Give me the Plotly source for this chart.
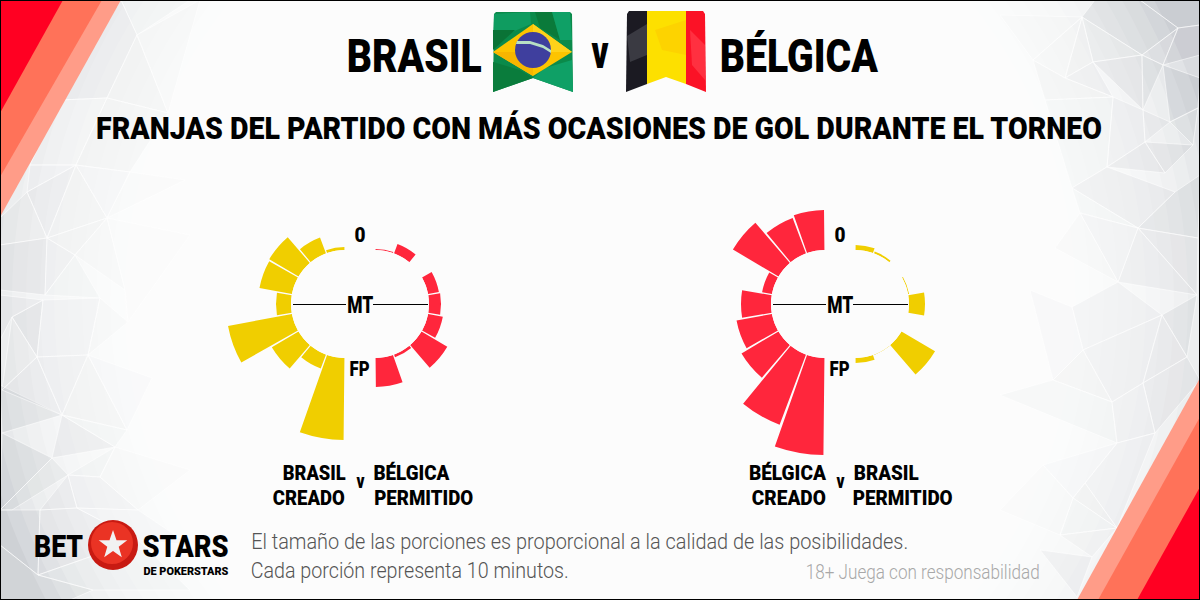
import json
import math
import plotly.graph_objects as go

W, H = 1200, 600

# centro de cada franja de 10 minutos
minutos = [5, 15, 25, 35, 45, 55, 65, 75, 85]

# tamaño de cada porción
brasil_creado = [3, 17, 34, 33, 15, 65, 31, 15, 82]
belgica_permitido = [1, 10, 0, 11, 12, 15, 30, 3, 29]
belgica_creado = [40, 38, 53, 10, 30, 36, 43, 75, 97]
brasil_permitido = [5, 2, 0, 1, 16, 0, 39, 0.4, 5]

AMARILLO = "#f0ce00"
ROJO = "#ff263c"
FUENTE = "Roboto"
GRIS_TEXTO = "#555555"

R = 160
HUECO = 54


def dominio(cx, cy):
    return dict(x=[(cx - R) / W, (cx + R) / W], y=[1 - (cy + R) / H, 1 - (cy - R) / H])


def polar_layout(cx, cy, sentido):
    return dict(
        domain=dominio(cx, cy),
        hole=HUECO / R,
        bgcolor="rgba(0,0,0,0)",
        radialaxis=dict(visible=False, range=[0, R - HUECO]),
        angularaxis=dict(visible=False, direction=sentido, rotation=90),
    )


def barras(valores, color, subplot):
    return go.Barpolar(
        r=valores,
        theta=[m * 2 for m in minutos],
        width=[18.8] * len(minutos),
        marker=dict(color=color, line=dict(width=0)),
        subplot=subplot,
        hoverinfo="skip",
    )


def poly(puntos, color, linea=None, ancho=1, capa="below"):
    d = "M" + "L".join(f"{x / W:.5f},{1 - y / H:.5f}" for x, y in puntos) + "Z"
    return dict(
        type="path", path=d, xref="paper", yref="paper", fillcolor=color, layer=capa,
        line=dict(color=linea or "rgba(0,0,0,0)", width=ancho if linea else 0),
    )


def circulo(cx, cy, r, color):
    return dict(
        type="circle", xref="paper", yref="paper", layer="below", fillcolor=color,
        x0=(cx - r) / W, x1=(cx + r) / W, y0=1 - (cy + r) / H, y1=1 - (cy - r) / H,
        line=dict(width=0),
    )


def linea(x0, x1, y, color="#000000", ancho=1):
    return dict(
        type="line", xref="paper", yref="paper", layer="below",
        x0=x0 / W, x1=x1 / W, y0=1 - y / H, y1=1 - y / H, line=dict(color=color, width=ancho),
    )


# cada texto se ajusta luego al ancho x0-x1 del original
anchos = []


def texto(t, x0, x1, y, size, color="#000000", weight=900):
    anchos.append(x1 - x0)
    return dict(
        text=t, x=(x0 + x1) / 2 / W, y=1 - y / H, xref="paper", yref="paper", showarrow=False,
        xanchor="center", yanchor="middle", borderpad=0,
        font=dict(family=FUENTE, size=size, color=color, weight=weight),
    )


def faceta(c):
    # pasa un gris opaco a una capa translúcida sobre el degradado
    v = int(c[1:3], 16)
    return f"rgba(90,95,110,{(255 - v) / 255 * 0.6:.3f})"


facetas = [
    ("#f3f4f6", [(121, 0), (190, 0), (137, 35)]),
    ("#e8eaed", [(121, 0), (137, 35), (107, 98), (60, 100)]),
    ("#eff0f3", [(137, 35), (168, 113), (107, 98)]),
    ("#f6f7f8", [(137, 35), (200, 0), (168, 113)]),
    ("#f6f7f9", [(60, 100), (107, 98), (76, 165), (30, 165)]),
    ("#f2f3f5", [(107, 98), (168, 113), (130, 172), (76, 165)]),
    ("#f5f6f8", [(30, 165), (76, 165), (27, 192)]),
    ("#e9ebee", [(76, 165), (47, 238), (27, 192)]),
    ("#f2f3f6", [(76, 165), (107, 218), (47, 238)]),
    ("#f5f6f8", [(76, 165), (130, 172), (107, 218)]),
    ("#fafafb", [(130, 172), (185, 180), (107, 218)]),
    ("#eef0f2", [(0, 218), (27, 192), (47, 238), (0, 245)]),
    ("#e0e2e6", [(0, 245), (47, 238), (45, 295), (0, 290)]),
    ("#eceef0", [(47, 238), (75, 255), (45, 295)]),
    ("#f1f2f4", [(47, 238), (107, 218), (75, 255)]),
    ("#f7f8f9", [(107, 218), (125, 290), (75, 255)]),
    ("#f3f4f6", [(75, 255), (100, 298), (45, 295)]),
    ("#fbfbfc", [(107, 218), (190, 235), (128, 322), (125, 290)]),
    ("#dcdee2", [(12, 317), (43, 300), (37, 357)]),
    ("#ebedef", [(0, 295), (43, 300), (12, 317), (0, 340)]),
    ("#f0f1f3", [(43, 300), (100, 298), (88, 355), (37, 357)]),
    ("#f6f7f8", [(100, 298), (128, 322), (88, 355)]),
    ("#eff0f2", [(12, 317), (37, 357), (2, 390)]),
    ("#d9dbdf", [(0, 385), (62, 415), (2, 433)]),
    ("#e9eaed", [(37, 357), (62, 415), (2, 390)]),
    ("#eceef0", [(37, 357), (88, 355), (62, 415)]),
    ("#f2f3f5", [(88, 355), (127, 430), (62, 415)]),
    ("#f9f9fa", [(88, 355), (152, 378), (127, 430)]),
    ("#e4e6e9", [(62, 415), (115, 447), (52, 458)]),
    ("#f4f5f6", [(62, 415), (127, 430), (115, 447)]),
    ("#d6d8dc", [(2, 433), (52, 458), (0, 510)]),
    ("#e6e8ea", [(52, 458), (68, 475), (12, 510), (0, 510)]),
    ("#e9ebed", [(68, 475), (77, 508), (40, 510)]),
    ("#f3f4f5", [(68, 475), (115, 447), (100, 477)]),
    ("#f0f1f3", [(68, 475), (100, 477), (138, 510), (77, 508)]),
    ("#fafafb", [(115, 447), (190, 470), (138, 510), (100, 477)]),
    ("#dcdee1", [(0, 510), (40, 510), (38, 575), (0, 545)]),
    ("#e9eaec", [(40, 510), (77, 508), (138, 540), (38, 575)]),
    ("#f5f5f6", [(77, 508), (138, 510), (190, 545), (138, 540)]),
    ("#e6e8ea", [(0, 545), (38, 575), (93, 590), (70, 600), (0, 600)]),
    ("#f3f4f5", [(38, 575), (138, 540), (190, 590), (93, 590)]),
    ("#d7d9dd", [(1082, 17), (1142, 55), (1178, 28), (1140, 0), (1095, 0)]),
    ("#cfd1d7", [(1140, 0), (1200, 0), (1200, 25), (1178, 28)]),
    ("#e6e7ea", [(1082, 17), (1093, 62), (1142, 55)]),
    ("#eff0f2", [(1082, 17), (1065, 78), (1093, 62)]),
    ("#f6f6f8", [(1082, 17), (1033, 60), (1065, 78)]),
    ("#fafafb", [(1000, 15), (1082, 17), (1033, 60)]),
    ("#e2e3e7", [(1142, 55), (1178, 28), (1163, 65)]),
    ("#d3d5da", [(1178, 28), (1200, 25), (1200, 55), (1163, 65)]),
    ("#e0e2e6", [(1093, 62), (1142, 55), (1143, 110)]),
    ("#eaebee", [(1065, 78), (1093, 62), (1113, 97)]),
    ("#f2f3f5", [(1033, 60), (1065, 78), (1113, 97), (1045, 100)]),
    ("#d8dadf", [(1142, 55), (1163, 65), (1143, 110)]),
    ("#cfd1d6", [(1163, 65), (1200, 78), (1198, 108), (1170, 122)]),
    ("#eaebef", [(1143, 110), (1170, 122), (1145, 142)]),
    ("#e6e7ea", [(1170, 122), (1198, 108), (1193, 145)]),
    ("#eceef0", [(1113, 97), (1143, 110), (1145, 142), (1107, 167)]),
    ("#f3f4f6", [(1045, 100), (1113, 97), (1107, 167), (1072, 188)]),
    ("#e0e2e5", [(1145, 142), (1193, 145), (1165, 173)]),
    ("#e3e5e8", [(1107, 167), (1145, 142), (1165, 173)]),
    ("#e8e9ec", [(1107, 167), (1175, 192), (1138, 228), (1072, 188)]),
    ("#d9dbdf", [(1175, 192), (1200, 175), (1198, 238), (1138, 228)]),
    ("#f4f4f6", [(1072, 188), (1138, 228), (1080, 213)]),
    ("#e2e3e6", [(1138, 228), (1198, 238), (1197, 295)]),
    ("#e8e9eb", [(1138, 228), (1197, 295), (1118, 282)]),
    ("#f0f1f3", [(1080, 213), (1138, 228), (1118, 282)]),
    ("#f7f7f8", [(1055, 248), (1080, 213), (1118, 282)]),
    ("#ecedef", [(1072, 307), (1118, 282), (1162, 315), (1083, 350)]),
    ("#f5f5f7", [(1030, 290), (1072, 307), (1083, 350), (1053, 380)]),
    ("#dcdee1", [(1162, 315), (1197, 295), (1187, 357)]),
    ("#e9eaec", [(1083, 350), (1162, 315), (1143, 383), (1112, 402)]),
    ("#e4e6e8", [(1162, 315), (1187, 357), (1143, 383)]),
    ("#eff0f2", [(1053, 380), (1083, 350), (1112, 402)]),
    ("#f4f5f6", [(1000, 395), (1053, 380), (1112, 402), (1117, 443)]),
    ("#e4e6e8", [(1143, 383), (1187, 357), (1200, 380), (1155, 433)]),
    ("#ecedef", [(1112, 402), (1143, 383), (1155, 433), (1117, 443)]),
    ("#f0f1f3", [(1117, 443), (1155, 433), (1117, 528), (1085, 483)]),
    ("#f8f8f9", [(1043, 465), (1117, 443), (1085, 483), (1073, 498)]),
    ("#eeeff1", [(1073, 498), (1085, 483), (1117, 528)]),
    ("#f3f4f5", [(1060, 535), (1073, 498), (1117, 528)]),
    ("#fafafb", [(1043, 465), (1073, 498), (1060, 535), (1000, 510)]),
    ("#e9eaec", [(1040, 550), (1092, 557), (1077, 597)]),
    ("#f1f2f3", [(1060, 535), (1117, 528), (1092, 557)]),
]

# degradado del fondo: elipses blancas apiladas sobre gris
formas = [
    dict(type="rect", xref="paper", yref="paper", x0=0, x1=1, y0=0, y1=1, layer="below",
         fillcolor="#d9dbdf", line=dict(width=0)),
]
for i in range(17):
    formas.append(circulo(600, 300, 630 - i * 14, "rgba(255,255,255,0.22)"))

formas += [poly(p, faceta(c), linea="rgba(255,255,255,0.55)", ancho=1) for c, p in facetas]

# franjas rojas de las esquinas
formas += [
    poly([(0, 0), (121, 0), (0, 217)], "#ff9c88"),
    poly([(0, 0), (102, 0), (0, 177)], "#ff7259"),
    poly([(0, 0), (63, 0), (0, 113)], "#ff0022"),
    poly([(1200, 378), (1200, 600), (1077, 600)], "#ff9c88"),
    poly([(1200, 417), (1200, 600), (1098, 600)], "#ff7259"),
    poly([(1200, 487), (1200, 600), (1137, 600)], "#ff0022"),
]

# bandera de Brasil
formas += [
    poly([(494, 14), (496, 12), (570, 12), (572, 14), (573, 92), (533, 78), (493, 92)], "#0b8a4a"),
    poly([(494, 14), (530, 12), (531, 24), (493, 40)], "#0f9c60"),
    poly([(535, 12), (552, 12), (560, 40), (540, 28)], "#0a7a3a"),
    poly([(552, 12), (570, 12), (572, 40), (560, 40)], "#0fa066"),
    poly([(493, 30), (515, 30), (493, 50)], "#0a7336"),
    poly([(493, 62), (520, 70), (533, 78), (493, 92)], "#0a7c3c"),
    poly([(572, 60), (573, 92), (533, 78), (545, 68)], "#0fa066"),
    poly([(493, 52), (533, 24), (572, 52), (533, 76)], "#fdc400"),
    poly([(533, 24), (572, 52), (533, 52)], "#ffd21a"),
    poly([(493, 52), (533, 52), (533, 76)], "#f7b500"),
    circulo(533, 50, 18, "#3f3f9e"),
    poly([(516, 44), (530, 44), (543, 48), (551, 53), (551, 50), (543, 45), (530, 41), (517, 41)], "#b8e0c4"),
    # bandera de Bélgica
    poly([(627, 14), (629, 11), (647, 11), (647, 84), (626, 92)], "#1b1a22"),
    poly([(627, 36), (647, 24), (647, 55), (630, 62)], "#3a3a42"),
    poly([(647, 11), (686, 11), (686, 84), (666, 77), (647, 84)], "#fde000"),
    poly([(655, 30), (686, 20), (686, 55), (662, 50)], "#fdd300"),
    poly([(686, 11), (703, 11), (705, 14), (706, 92), (686, 84)], "#fb1226"),
    poly([(690, 30), (705, 45), (705, 80), (692, 65)], "#ff3040"),
]

# líneas de medio tiempo
formas += [
    linea(293, 346, 304.5), linea(373, 428, 304.5),
    linea(773, 826, 304.5), linea(853, 908, 304.5),
]

# balón del logo
estrella = []
for i in range(10):
    r_e = 15 if i % 2 == 0 else 6
    a = math.radians(-90 + 36 * i)
    estrella.append((113 + r_e * math.cos(a), 545 + r_e * math.sin(a)))
formas += [
    circulo(113, 545, 25, "#c81a12"),
    circulo(112, 543, 21, "#ea3324"),
    poly(estrella, "#f2f2f2"),
]

# marco
formas.append(dict(
    type="rect", xref="paper", yref="paper", x0=0, x1=1, y0=0, y1=1, layer="above",
    line=dict(color="#000000", width=2), fillcolor="rgba(0,0,0,0)",
))

textos = [
    texto("BRASIL", 347, 482, 56, 46),
    texto("BÉLGICA", 720, 878, 56, 46),
    texto("v", 591, 608, 52, 46),
    texto("FRANJAS DEL PARTIDO CON MÁS OCASIONES DE GOL DURANTE EL TORNEO", 96, 1102, 128, 31),
    texto("0", 354, 365, 235, 21), texto("MT", 347, 373, 305, 23), texto("FP", 349, 369, 369, 21),
    texto("0", 834, 845, 235, 21), texto("MT", 827, 853, 305, 23), texto("FP", 829, 849, 369, 21),
    texto("BRASIL", 282, 345, 473, 21), texto("CREADO", 273, 345, 498, 21),
    texto("v", 356, 364, 481, 21),
    texto("BÉLGICA", 373, 449, 473, 21), texto("PERMITIDO", 374, 473, 498, 21),
    texto("BÉLGICA", 749, 826, 473, 21), texto("CREADO", 752, 826, 498, 21),
    texto("v", 836, 844, 481, 21),
    texto("BRASIL", 853, 918, 473, 21), texto("PERMITIDO", 853, 953, 498, 21),
    texto("BET", 34, 83, 546, 32),
    texto("STARS", 142, 228, 546, 32),
    texto("DE POKERSTARS", 143, 228, 571, 11),
    texto("El tamaño de las porciones es proporcional a la calidad de las posibilidades.", 251, 908, 541, 22,
          color=GRIS_TEXTO, weight=300),
    texto("Cada porción representa 10 minutos.", 251, 569, 570, 22, color=GRIS_TEXTO, weight=300),
    texto("18+ Juega con responsabilidad", 806, 1040, 572, 20, color="#a8a8a8", weight=300),
]

fig = go.Figure()
fig.add_trace(barras(brasil_creado, AMARILLO, "polar"))
fig.add_trace(barras(belgica_permitido, ROJO, "polar2"))
fig.add_trace(barras(belgica_creado, ROJO, "polar3"))
fig.add_trace(barras(brasil_permitido, AMARILLO, "polar4"))

fig.update_layout(
    width=W,
    height=H,
    margin=dict(l=0, r=0, t=0, b=0),
    paper_bgcolor="#ffffff",
    showlegend=False,
    polar=polar_layout(345, 304, "counterclockwise"),
    polar2=polar_layout(375, 304, "clockwise"),
    polar3=polar_layout(825, 304, "counterclockwise"),
    polar4=polar_layout(855, 304, "clockwise"),
    shapes=formas,
    annotations=textos,
)

# sin margen de página, y textos estrechados como la letra condensada del original
ajuste = """
document.body.style.margin = '0';
var anchos = %s;
document.querySelectorAll('.annotation-text').forEach(function (t, i) {
    t.setAttribute('textLength', anchos[i]);
    t.setAttribute('lengthAdjust', 'spacingAndGlyphs');
});
""" % json.dumps(anchos)

fig.write_html("out.html", config=dict(displayModeBar=False), post_script=ajuste)
